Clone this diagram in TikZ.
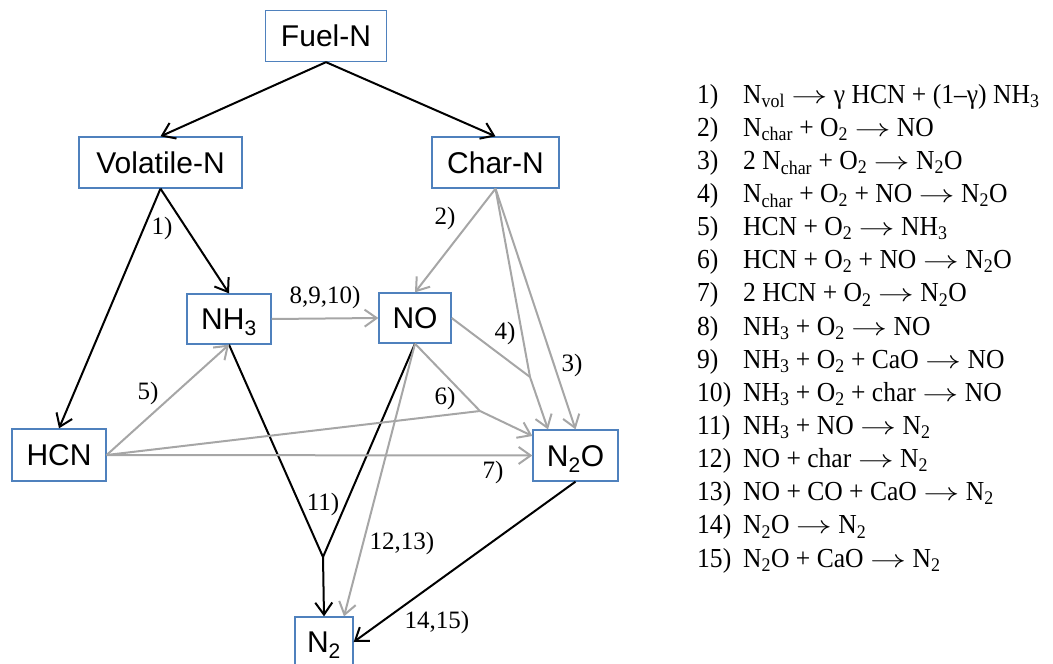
\documentclass[tikz,border=0pt]{standalone}
\usepackage{fontspec}
\setmainfont{Liberation Serif}
\newfontfamily\boxfont{Liberation Sans}
\newfontfamily\eqfont[FakeStretch=0.93]{Liberation Serif}
\usetikzlibrary{arrows.meta,calc}
\definecolor{boxblue}{RGB}{79,129,189}
\definecolor{arrgray}{RGB}{166,166,166}
\begin{document}
\begin{tikzpicture}[x=1pt,y=-1pt,
  spec/.style={draw=boxblue, line width=1.3pt, fill=white, inner sep=0pt,
    minimum height=51pt, text height=21.5pt, text depth=0pt,
    font=\boxfont\fontsize{30}{36}\selectfont},
  tip/.style={-{Straight Barb[length=12pt,width=17pt]}},
  blk/.style={draw=black, line width=2pt},
  gry/.style={draw=arrgray, line width=2pt},
  lab/.style={font=\fontsize{25}{28}\selectfont, inner sep=0pt},
  eq/.style={anchor=base west, inner sep=0pt, font=\eqfont\fontsize{27.5}{33}\selectfont}]
\useasboundingbox (0,0) rectangle (1053,664);

% species boxes
\node[spec, minimum width=121pt] (fuel) at (326,36) {Fuel-N};
\node[spec, minimum width=163pt] (vol) at (160.5,162.5) {Volatile-N};
\node[spec, minimum width=127pt] (char) at (495.5,162.5) {Char-N};
\node[spec, minimum width=84pt, minimum height=50pt] (nh3) at (229,319) {NH\textsubscript{3}};
\node[spec, minimum width=72pt, minimum height=50pt] (no) at (415,318) {NO};
\node[spec, minimum width=94pt, minimum height=52pt] (hcn) at (59,455) {HCN};
\node[spec, minimum width=85pt] (n2o) at (575.5,455.5) {N\textsubscript{2}O};
\node[spec, minimum width=58pt, minimum height=50pt] (n2) at (324,642) {N\textsubscript{2}};

% junction points
\coordinate (j4) at (530,377);
\coordinate (j6) at (480,411);
\coordinate (j11) at (323,557);

% black connectors
\draw[blk,tip] (fuel.south) -- (vol.north);
\draw[blk,tip] (fuel.south) -- (char.north);
\draw[blk,tip] (vol.south) -- (nh3.north);
\draw[blk,tip] (vol.south) -- (hcn.north);
\draw[blk] (nh3.south) -- (j11);
\draw[blk] (no.south) -- (j11);
\draw[blk,tip] (j11) -- (n2.north);
\draw[blk,tip] (n2o.south) -- (n2.east);

% gray connectors
\draw[gry,tip] (char.south) -- (no.north);
\draw[gry] (char.south) -- (j4);
\draw[gry] (no.east) -- (j4);
\draw[gry,tip] (j4) -- ([xshift=-27.5pt]n2o.north);
\draw[gry,tip] (char.south) -- (n2o.north);
\draw[gry,tip] (nh3.east) -- (no.west);
\draw[gry,tip] (hcn.east) -- (nh3.south);
\draw[gry] (hcn.east) -- (j6);
\draw[gry] (no.south) -- (j6);
\draw[gry,tip] (j6) -- ([yshift=19.5pt]n2o.west);
\draw[gry,tip] (hcn.east) -- (n2o.west);
\draw[gry,tip] (no.south) -- ([xshift=20pt]n2.north);

% reaction labels
\node[lab] (l1) at (162,228) {1)};
\node[lab] (l2) at (445,218) {2)};
\node[lab] (l8) at (325,297) {8,9,10)};
\node[lab] (l4) at (505,333) {4)};
\node[lab] (l3) at (572,365) {3)};
\node[lab] (l5) at (148,393) {5)};
\node[lab] (l6) at (445,398) {6)};
\node[lab] (l7) at (493,472) {7)};
\node[lab] (l11) at (323,504) {11)};
\node[lab] (l12) at (402,543) {12,13)};
\node[lab] (l14) at (437,622) {14,15)};

% reaction list
\newcommand\rn[1]{\makebox[46pt][l]{#1)}}
\newcommand\ra{ \scalebox{1.45}[1]{$\rightarrow$} }
\node[eq] (e1) at (697,103) {\rn{1}N\textsubscript{vol}\ra γ HCN + (1–γ) NH\textsubscript{3}};
\node[eq] (e2) at (697,136.1) {\rn{2}N\textsubscript{char} + O\textsubscript{2}\ra NO};
\node[eq] (e3) at (697,169.3) {\rn{3}2 N\textsubscript{char} + O\textsubscript{2}\ra N\textsubscript{2}O};
\node[eq] (e4) at (697,202.4) {\rn{4}N\textsubscript{char} + O\textsubscript{2} + NO\ra N\textsubscript{2}O};
\node[eq] (e5) at (697,235.6) {\rn{5}HCN + O\textsubscript{2}\ra NH\textsubscript{3}};
\node[eq] (e6) at (697,268.7) {\rn{6}HCN + O\textsubscript{2} + NO\ra N\textsubscript{2}O};
\node[eq] (e7) at (697,301.9) {\rn{7}2 HCN + O\textsubscript{2}\ra N\textsubscript{2}O};
\node[eq] (e8) at (697,335) {\rn{8}NH\textsubscript{3} + O\textsubscript{2}\ra NO};
\node[eq] (e9) at (697,368.1) {\rn{9}NH\textsubscript{3} + O\textsubscript{2} + CaO\ra NO};
\node[eq] (e10) at (697,401.3) {\rn{10}NH\textsubscript{3} + O\textsubscript{2} + char\ra NO};
\node[eq] (e11) at (697,434.4) {\rn{11}NH\textsubscript{3} + NO\ra N\textsubscript{2}};
\node[eq] (e12) at (697,467.6) {\rn{12}NO + char\ra N\textsubscript{2}};
\node[eq] (e13) at (697,500.7) {\rn{13}NO + CO + CaO\ra N\textsubscript{2}};
\node[eq] (e14) at (697,533.9) {\rn{14}N\textsubscript{2}O\ra N\textsubscript{2}};
\node[eq] (e15) at (697,567) {\rn{15}N\textsubscript{2}O + CaO\ra N\textsubscript{2}};
\end{tikzpicture}
\end{document}
